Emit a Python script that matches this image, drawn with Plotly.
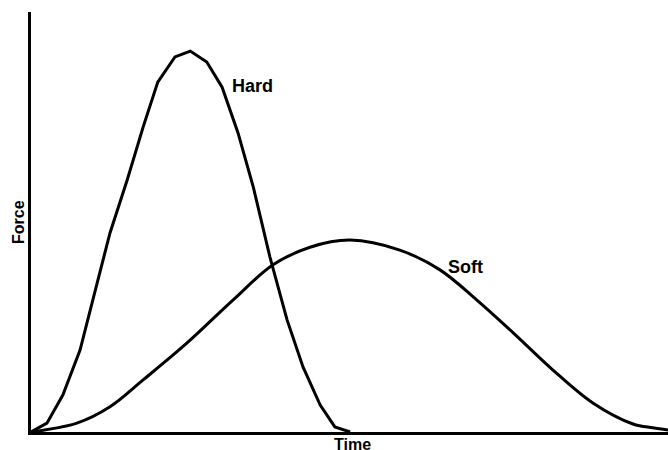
import plotly.graph_objects as go

# Hard impact: force vs time (arbitrary units, 0-100)
hard_time = [0, 2.5, 5.0, 7.7, 9.7, 12.4, 15.1, 17.6, 19.9, 22.6, 25.0, 27.6, 30.0,
             32.5, 34.9, 37.5, 40.2, 42.7, 45.4, 47.7, 50.1]
hard_force = [0, 2.1, 8.8, 19.5, 31.4, 47.4, 60.0, 72.6, 83.3, 89.3, 90.7, 88.1, 82.1,
              71.2, 58.3, 41.7, 26.7, 15.5, 6.4, 1.2, 0]

# Soft impact
soft_time = [0, 7.2, 12.4, 17.6, 24.5, 31.7, 38.0, 43.8, 50.1, 57.9, 64.2, 70.0,
             75.7, 81.9, 88.2, 94.5, 97.6, 100]
soft_force = [0, 2.1, 6.0, 12.4, 21.2, 31.4, 39.8, 44.0, 45.7, 43.3, 38.6, 31.4,
              23.6, 14.8, 6.9, 1.9, 1.0, 0.5]

fig = go.Figure()
fig.add_trace(go.Scatter(x=hard_time, y=hard_force, mode="lines",
                         line=dict(color="black", width=3), showlegend=False))
fig.add_trace(go.Scatter(x=soft_time, y=soft_force, mode="lines",
                         line=dict(color="black", width=3, shape="spline"),
                         showlegend=False))

big = dict(family="Liberation Sans", size=18, color="black")
small = dict(family="Liberation Sans", size=16, color="black")
fig.add_annotation(x=34.7, y=82.4, text="<b>Hard</b>", showarrow=False, font=big)
fig.add_annotation(x=68.2, y=39.3, text="<b>Soft</b>", showarrow=False, font=big)
fig.add_annotation(x=50.4, y=0, yshift=-12, text="<b>Time</b>", showarrow=False,
                   font=small)
fig.add_annotation(x=0, y=50, xshift=-13, text="<b>Force</b>", showarrow=False,
                   textangle=-90, font=small)

fig.update_xaxes(range=[0, 100], showline=True, linecolor="black", linewidth=3,
                 showticklabels=False, ticks="", showgrid=False, zeroline=False)
fig.update_yaxes(range=[0, 100], showline=True, linecolor="black", linewidth=3,
                 showticklabels=False, ticks="", showgrid=False, zeroline=False)
fig.update_layout(width=668, height=450, margin=dict(l=31, r=0, t=12, b=18),
                  plot_bgcolor="white", paper_bgcolor="white")
fig.write_html("out.html", config={"displayModeBar": False},
               post_script="document.body.style.margin='0';")
